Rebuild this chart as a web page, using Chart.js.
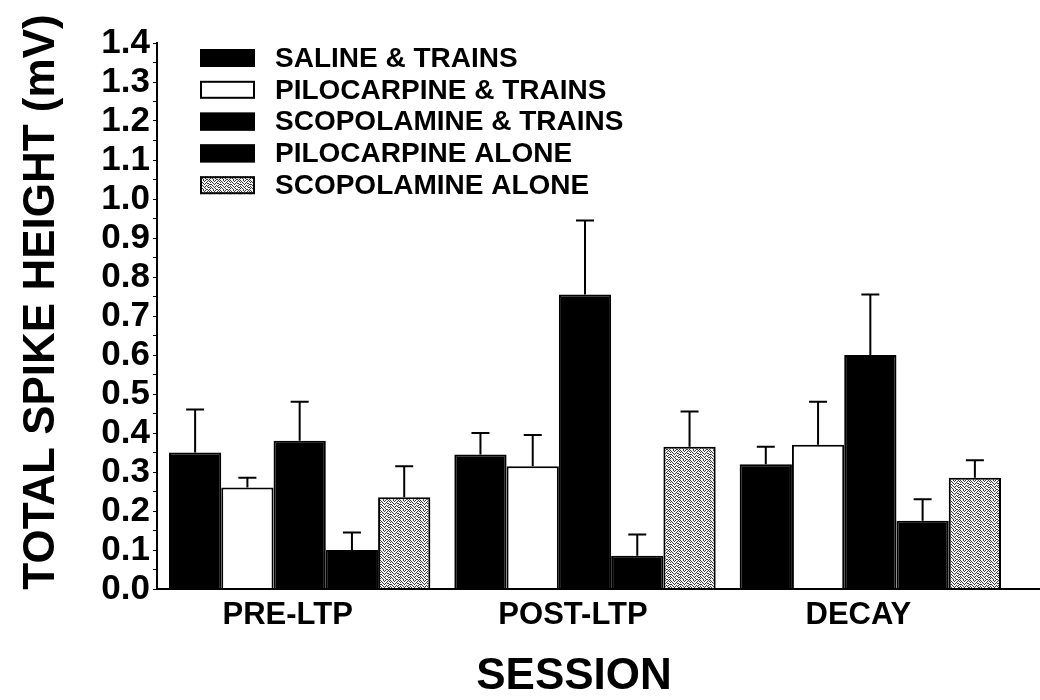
<!DOCTYPE html>
<html>
<head>
<meta charset="utf-8">
<script src="https://cdn.jsdelivr.net/npm/chart.js@4.4.1/dist/chart.umd.min.js"></script>
<style>
  html, body { margin: 0; padding: 0; background: #ffffff; }
  #wrap { width: 1040px; height: 700px; }
</style>
</head>
<body>
<div id="wrap"><canvas id="chart" width="1040" height="700"></canvas></div>
<script>
// Sessions on the x axis
const sessions = ['PRE-LTP', 'POST-LTP', 'DECAY'];

// Group names, in legend order
const groupNames = [
  'SALINE & TRAINS',
  'PILOCARPINE & TRAINS',
  'SCOPOLAMINE & TRAINS',
  'PILOCARPINE ALONE',
  'SCOPOLAMINE ALONE'
];

// Mean total spike height (mV) per session
const salineTrains      = [0.35, 0.345, 0.32];
const pilocarpineTrains = [0.26, 0.315, 0.37];
const scopolamineTrains = [0.38, 0.755, 0.60];
const pilocarpineAlone  = [0.10, 0.085, 0.175];
const scopolamineAlone  = [0.235, 0.365, 0.285];

// Standard error of the mean (upper whisker only)
const salineTrainsSem      = [0.11, 0.055, 0.045];
const pilocarpineTrainsSem = [0.025, 0.08, 0.11];
const scopolamineTrainsSem = [0.10, 0.19, 0.155];
const pilocarpineAloneSem  = [0.045, 0.055, 0.055];
const scopolamineAloneSem  = [0.08, 0.09, 0.045];

// Axis titles
const yTitle = 'TOTAL SPIKE HEIGHT (mV)';
const xTitle = 'SESSION';

const FONT = "'Liberation Sans', Arial, Helvetica, sans-serif";

// Stippled grey fill for the scopolamine-alone bars
function makeStipple() {
  const rows = [
    '1001010010',
    '0100100101',
    '1010001000',
    '0001010110',
    '1100100001',
    '0010001010',
    '1001010100',
    '0100100011',
    '1010010000',
    '0001001101'
  ];
  const n = rows.length;
  const c = document.createElement('canvas');
  c.width = n; c.height = n;
  const g = c.getContext('2d');
  g.fillStyle = '#f4f4f4';
  g.fillRect(0, 0, n, n);
  g.fillStyle = '#404040';
  rows.forEach((r, y) => {
    for (let x = 0; x < r.length; x++) if (r[x] === '1') g.fillRect(x, y, 1, 1);
  });
  return g.createPattern(c, 'repeat');
}
const stipple = makeStipple();

// Upward error whiskers with a flat cap
const errorBars = {
  id: 'errorBars',
  afterDatasetsDraw(chart) {
    const ctx = chart.ctx;
    const y = chart.scales.y;
    ctx.save();
    ctx.strokeStyle = '#000';
    ctx.lineWidth = 2;
    chart.data.datasets.forEach((ds, i) => {
      const meta = chart.getDatasetMeta(i);
      meta.data.forEach((bar, j) => {
        const top = y.getPixelForValue(ds.data[j] + ds.sem[j]);
        ctx.beginPath();
        ctx.moveTo(bar.x, bar.y);
        ctx.lineTo(bar.x, top);
        ctx.moveTo(bar.x - 9, top);
        ctx.lineTo(bar.x + 9, top);
        ctx.stroke();
      });
    });
    ctx.restore();
  }
};

// Baseline runs on to the right edge of the figure; axis titles
const frameExtras = {
  id: 'frameExtras',
  afterDraw(chart) {
    const ctx = chart.ctx;
    const a = chart.chartArea;
    const yb = Math.round(chart.scales.x.top);
    ctx.save();
    ctx.strokeStyle = '#000';
    ctx.lineWidth = 2;
    ctx.beginPath();
    ctx.moveTo(a.left, yb);
    ctx.lineTo(chart.width, yb);
    ctx.stroke();

    ctx.fillStyle = '#000';
    ctx.font = 'bold 44px ' + FONT;
    ctx.textAlign = 'center';
    ctx.textBaseline = 'middle';
    ctx.fillText(xTitle, 574, 677);
    ctx.translate(42, 302);
    ctx.rotate(-Math.PI / 2);
    ctx.fillText(yTitle, 0, 0);
    ctx.restore();
  }
};

// Stacked legend inside the plot, top left
const boxLegend = {
  id: 'boxLegend',
  afterDraw(chart) {
    const ctx = chart.ctx;
    const x0 = 200, y0 = 58, step = 31.8, w = 55, h = 18;
    ctx.save();
    ctx.font = 'bold 28px ' + FONT;
    ctx.textBaseline = 'middle';
    ctx.textAlign = 'left';
    chart.data.datasets.forEach((ds, i) => {
      const cy = y0 + i * step;
      ctx.fillStyle = ds.backgroundColor;
      ctx.fillRect(x0, cy - h / 2, w, h);
      ctx.strokeStyle = '#000';
      ctx.lineWidth = 2;
      ctx.strokeRect(x0 + 1, cy - h / 2 + 1, w - 2, h - 2);
      ctx.fillStyle = '#000';
      ctx.fillText(ds.label, 275, cy + 1);
    });
    ctx.restore();
  }
};

const series = [salineTrains, pilocarpineTrains, scopolamineTrains, pilocarpineAlone, scopolamineAlone];
const sems = [salineTrainsSem, pilocarpineTrainsSem, scopolamineTrainsSem, pilocarpineAloneSem, scopolamineAloneSem];
const fills = ['#000000', '#ffffff', '#000000', '#000000', stipple];

new Chart(document.getElementById('chart'), {
  type: 'bar',
  data: {
    labels: sessions,
    datasets: series.map((vals, i) => ({
      label: groupNames[i],
      data: vals,
      sem: sems[i],
      backgroundColor: fills[i],
      borderColor: '#000000',
      borderWidth: 2,
      categoryPercentage: 0.916,
      barPercentage: 1.0
    }))
  },
  options: {
    responsive: false,
    animation: false,
    devicePixelRatio: 1,
    layout: { padding: { top: 43, right: 27, bottom: 0, left: 0 } },
    plugins: {
      legend: { display: false },
      tooltip: { enabled: false },
      title: { display: false }
    },
    scales: {
      x: {
        grid: { display: false, drawTicks: false },
        border: { display: true, color: '#000', width: 2 },
        ticks: {
          color: '#000',
          font: { family: FONT, size: 31, weight: 'bold' },
          padding: 8,
          labelOffset: -12,
          maxRotation: 0
        },
        title: { display: false },
        afterFit(scale) { scale.height = 111; }
      },
      y: {
        min: 0,
        max: 1.4,
        grid: { drawOnChartArea: false, drawTicks: true, tickLength: 4, color: '#000', lineWidth: 1 },
        border: { display: true, color: '#000', width: 2 },
        ticks: {
          stepSize: 0.05,
          color: '#000',
          padding: 3,
          font: { family: FONT, size: 35, weight: 'bold' },
          autoSkip: false,
          callback(v) {
            const k = Math.round(v * 100);
            return k % 10 === 0 ? (k / 100).toFixed(1) : '';
          }
        },
        title: { display: false },
        afterFit(scale) { scale.width = 157; }
      }
    }
  },
  plugins: [errorBars, frameExtras, boxLegend]
});
</script>
</body>
</html>
